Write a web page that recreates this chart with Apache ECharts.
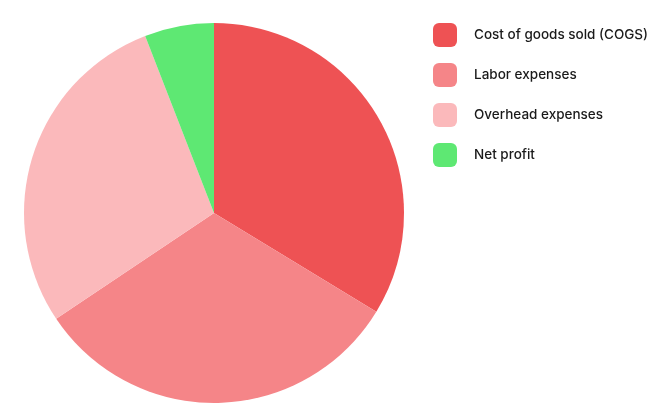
<!DOCTYPE html>
<html><head><meta charset="utf-8">
<script src="https://cdn.jsdelivr.net/npm/echarts@6/dist/echarts.min.js"></script>
<style>html,body{margin:0;padding:0;background:#fff}#c{width:669px;height:419px}</style>
</head><body><div id="c"></div>
<script>
const categories = ['Cost of goods sold (COGS)', 'Labor expenses', 'Overhead expenses', 'Net profit'];
const values = [33.7, 31.9, 28.5, 5.9];
const colors = ['#EE5254', '#F58588', '#FBB9BB', '#5EE873'];
const chart = echarts.init(document.getElementById('c'));
chart.setOption({
  animation: false,
  legend: {
    orient: 'vertical', left: 433, top: 23, padding: 0,
    itemWidth: 24, itemHeight: 24, itemGap: 16,
    icon: 'roundRect',
    textStyle: { fontFamily: 'Inter', fontSize: 13.5, fontWeight: 500, color: '#1a1a1a', padding: [0, 0, 0, 12] },
    data: categories
  },
  series: [{
    type: 'pie', center: [214, 213], radius: 190,
    startAngle: 90, clockwise: true,
    label: { show: false }, labelLine: { show: false },
    itemStyle: { borderWidth: 0 },
    emphasis: { disabled: true },
    data: categories.map((n, i) => ({ name: n, value: values[i], itemStyle: { color: colors[i] } }))
  }]
});
</script></body></html>
